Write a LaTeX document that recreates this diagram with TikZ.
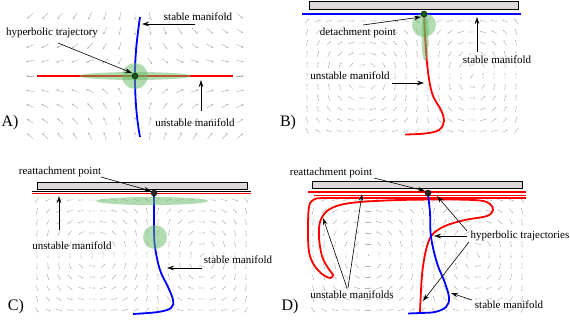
\documentclass[tikz,border=0pt]{standalone}
\usepackage{fontspec}
\setmainfont{Liberation Serif}
\usetikzlibrary{arrows.meta}
\tikzset{
 fld/.style={draw=gray!60, line width=0.45pt, -{Stealth[length=2.4pt,width=2pt]}},
 cfld/.style={draw=gray!60, line width=0.45pt, -{Stealth[length=1.4pt,width=1.3pt]}},
 lbl/.style={font=\fontsize{11}{13}\selectfont, inner sep=0pt},
 plab/.style={font=\fontsize{16}{18}\selectfont, inner sep=0pt},
 ptr/.style={line width=0.6pt, -{Stealth[length=7pt,width=4.5pt]}},
 redl/.style={draw=red, line width=1.8pt},
 bluel/.style={draw=blue, line width=1.8pt},
 greenf/.style={fill={rgb,255:red,100;green,185;blue,100}, fill opacity=0.5},
 wall/.style={draw=black, line width=0.5pt, fill={rgb,255:red,222;green,216;blue,216}},
 hdot/.style={circle, draw=black, line width=0.4pt, inner sep=0pt, minimum size=6pt},
}
\newcommand\cellfield[6]{%
 \foreach \i in {0,...,19}{\foreach \j in {0,...,10}{
  \pgfmathsetmacro\fx{#1+5+11*\i}
  \pgfmathsetmacro\fy{#4+7+11*\j}
  \pgfmathsetmacro\fL{\fx<#2 ? #2-#1 : #3-#2}
  \pgfmathsetmacro\fs{\fx<#2 ? (\fx-#1)/\fL : (\fx-#2)/\fL}
  \pgfmathsetmacro\fg{\fx<#2 ? #6 : -1*(#6)}
  \pgfmathsetmacro\fq{(\fy-#4)/(#5-#4)}
  \pgfmathsetmacro\fu{\fg*sin(180*\fs)*cos(180*\fq)*100/(#5-#4)+0.01}
  \pgfmathsetmacro\fv{-1*\fg*cos(180*\fs)*sin(180*\fq)*100/\fL}
  \pgfmathsetmacro\fm{sqrt(\fu*\fu+\fv*\fv)+0.001}
  \pgfmathsetmacro\fdx{3*\fu/\fm}
  \pgfmathsetmacro\fdy{3*\fv/\fm}
  \pgfmathsetmacro\fxa{\fx-\fdx}
  \pgfmathsetmacro\fya{\fy-\fdy}
  \pgfmathsetmacro\fxb{\fx+\fdx}
  \pgfmathsetmacro\fyb{\fy+\fdy}
  \draw[cfld] (\fxa,\fya) -- (\fxb,\fyb);
 }}}
\begin{document}
\begin{tikzpicture}[x=1pt,y=-1pt]
\useasboundingbox (0,0) rectangle (570,323);

% ---------------- Panel A ----------------
\foreach \i in {0,...,14}{\foreach \j in {0,...,8}{
 \pgfmathsetmacro\fx{30+15*\i}
 \pgfmathsetmacro\fy{16+15*\j}
 \pgfmathsetmacro\fu{(\fx-135)/60+0.01}
 \pgfmathsetmacro\fv{-1*(\fy-76)/40}
 \pgfmathsetmacro\fm{sqrt(\fu*\fu+\fv*\fv)+0.001}
 \pgfmathsetmacro\fdx{4*\fu/\fm}
 \pgfmathsetmacro\fdy{4*\fv/\fm}
 \pgfmathsetmacro\fxa{\fx-\fdx}
 \pgfmathsetmacro\fya{\fy-\fdy}
 \pgfmathsetmacro\fxb{\fx+\fdx}
 \pgfmathsetmacro\fyb{\fy+\fdy}
 \draw[fld] (\fxa,\fya) -- (\fxb,\fyb);
}}
\draw[redl] (37,76) -- (233,76);
\draw[bluel] (140,17) .. controls (136,45) and (135,60) .. (135,76)
  .. controls (135,95) and (136,115) .. (140,137);
\fill[greenf] (135,76) ellipse [x radius=56, y radius=4];
\fill[greenf] (135,76) circle [radius=13];
\node[hdot, fill={rgb,255:red,20;green,90;blue,20}] (dA) at (135,76) {};
\node[lbl] (tA1) at (52,33) {hyperbolic trajectory};
\node[lbl] (tA2) at (198,17) {stable manifold};
\node[lbl] (tA3) at (195,123) {unstable manifold};
\node[plab] (pA) at (10,123) {A)};
\coordinate (a1s) at (58,43); \coordinate (a1e) at (132,73);
\coordinate (a2s) at (195,24); \coordinate (a2e) at (142,24);
\coordinate (a3s) at (201,111); \coordinate (a3e) at (201,80);
\draw[ptr] (a1s) -- (a1e);
\draw[ptr] (a2s) -- (a2e);
\draw[ptr] (a3s) -- (a3e);

% ---------------- Panel B ----------------
\cellfield{302}{424}{521}{14}{140}{1}
\draw[wall] (309,0.8) rectangle (518,9.3);
\draw[draw=blue, line width=1.2pt] (302,14) -- (521,14);
\draw[redl] plot[smooth, tension=0.6] coordinates {(424,15) (427,63) (432,93) (441,110) (444,121) (439,130) (425,133.5) (405,134.5)};
\fill[greenf] (425,37) ellipse [x radius=3.5, y radius=24];
\fill[greenf] (424,25) circle [radius=12];
\node[hdot, fill={rgb,255:red,20;green,90;blue,20}] (dB) at (424,14) {};
\node[lbl] (tB1) at (358,33) {detachment point};
\node[lbl] (tB2) at (497,60) {stable manifold};
\node[lbl] (tB3) at (350,76) {unstable manifold};
\node[plab] (pB) at (288,123) {B)};
\coordinate (b1s) at (363,25); \coordinate (b1e) at (421,17);
\coordinate (b2s) at (477,52); \coordinate (b2e) at (477,17);
\coordinate (b3s) at (392,83); \coordinate (b3e) at (424,83);
\draw[ptr] (b1s) -- (b1e);
\draw[ptr] (b2s) -- (b2e);
\draw[ptr] (b3s) -- (b3e);

% ---------------- Panel C ----------------
\cellfield{32}{154}{251}{193}{318}{-1}
\draw[wall] (37,182) rectangle (247,189);
\draw[line width=0.6pt] (32,191) -- (251,191);
\draw[draw=red, line width=1.3pt] (32,193.3) -- (251,193.3);
\draw[bluel] plot[smooth, tension=0.6] coordinates {(154,194) (154,227) (155,247) (160,270) (168,287) (173,300) (171,308) (158,312) (133,314)};
\fill[greenf] (152,201) ellipse [x radius=56, y radius=4];
\fill[greenf] (155,237) circle [radius=12];
\node[hdot, fill={rgb,255:red,40;green,40;blue,40}] (dC) at (154,193) {};
\node[lbl] (tC1) at (60,172) {reattachment point};
\node[lbl] (tC2) at (72,246) {unstable manifold};
\node[lbl] (tC3) at (238,260) {stable manifold};
\node[plab] (pC) at (16,307) {C)};
\coordinate (c1s) at (101,177); \coordinate (c1e) at (151,191);
\coordinate (c2s) at (59,230); \coordinate (c2e) at (59,196);
\coordinate (c3s) at (202,268); \coordinate (c3e) at (167,268);
\draw[ptr] (c1s) -- (c1e);
\draw[ptr] (c2s) -- (c2e);
\draw[ptr] (c3s) -- (c3e);

% ---------------- Panel D ----------------
\cellfield{308}{428}{526}{193}{318}{-1}
\draw[wall] (312,181) rectangle (522,188);
\draw[draw=red, line width=1.6pt] (308,192) -- (526,192);
\draw[draw=red, line width=0.8pt] (314,195) -- (526,195);
\draw[redl] plot[smooth, tension=0.55] coordinates {(526,198) (420,198) (330,198) (314,199.5) (309,207) (308,230) (309,252) (314,265) (322,274) (330,278) (333,275) (328,268) (322,256) (319,238) (320,222) (327,211) (340,205) (360,202) (400,200) (450,199.5) (480,200.5) (490,204) (493,210) (487,216) (465,220) (445,226) (432,235) (426,250) (422,275) (420,312)};
\draw[bluel] plot[smooth, tension=0.6] coordinates {(428,194) (430,213) (431,237) (437,263) (445,283) (449,298) (446,307) (435,312) (420,313) (408,313.5)};
\node[hdot, fill={rgb,255:red,40;green,40;blue,40}] (dD) at (428,193) {};
\node[lbl] (tD1) at (331,173) {reattachment point};
\node[lbl] (tD2) at (520,236) {hyperbolic trajectories};
\node[lbl] (tD3) at (352,295) {unstable manifolds};
\node[lbl] (tD4) at (509,305) {stable manifold};
\node[plab] (pD) at (290,307) {D)};
\coordinate (d1s) at (374,178); \coordinate (d1e) at (425,191);
\coordinate (d2s) at (467,231); \coordinate (d2e) at (437,196);
\coordinate (d3s) at (467,236); \coordinate (d3e) at (434,236);
\coordinate (d4s) at (469,242); \coordinate (d4e) at (423,301);
\coordinate (d5s) at (347,288); \coordinate (d5e) at (323,218);
\coordinate (d6s) at (348,288); \coordinate (d6e) at (362,194);
\coordinate (d7s) at (472,300); \coordinate (d7e) at (451,293);
\draw[ptr] (d1s) -- (d1e);
\draw[ptr] (d2s) -- (d2e);
\draw[ptr] (d3s) -- (d3e);
\draw[ptr] (d4s) -- (d4e);
\draw[ptr] (d5s) -- (d5e);
\draw[ptr] (d6s) -- (d6e);
\draw[ptr] (d7s) -- (d7e);
\end{tikzpicture}
\end{document}
